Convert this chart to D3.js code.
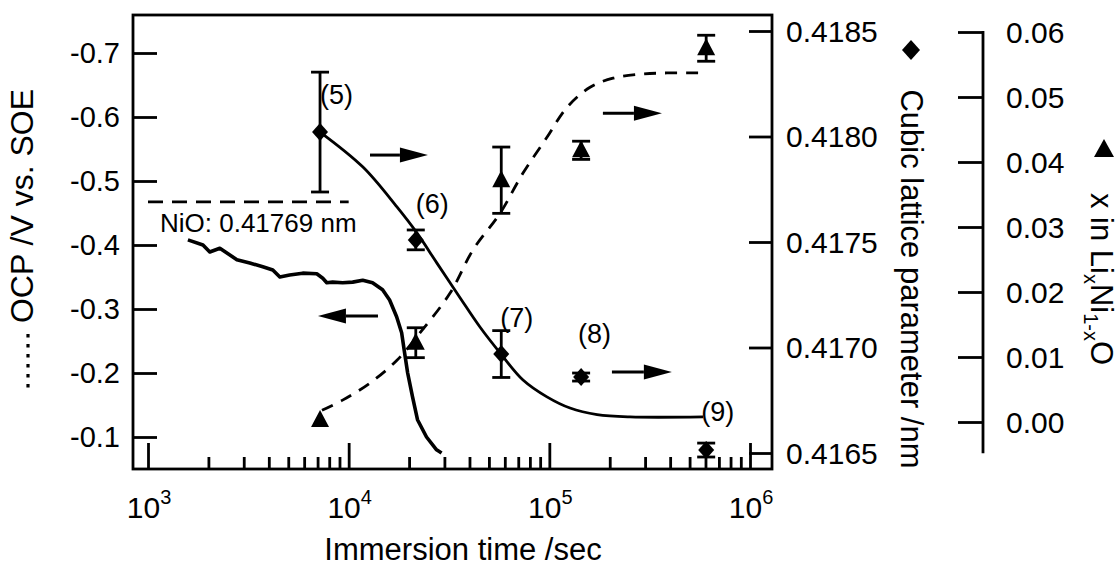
<!DOCTYPE html>
<html>
<head>
<meta charset="utf-8">
<script src="https://cdn.jsdelivr.net/npm/d3@7"></script>
<style>
  html, body { margin: 0; padding: 0; background: #fff; }
  svg { display: block; }
  text { font-family: "Liberation Sans", Arial, Helvetica, sans-serif; fill: #000; }
</style>
</head>
<body>
<svg id="chart" width="1119" height="568"></svg>
<script>
// ---------------- data ----------------
const xTickValues = [1e3, 1e4, 1e5, 1e6];
const xTickExp = ["3", "4", "5", "6"];
const ocpTicks = [-0.7, -0.6, -0.5, -0.4, -0.3, -0.2, -0.1];
const latticeTicks = [0.4165, 0.4170, 0.4175, 0.4180, 0.4185];
const liTicks = [0.00, 0.01, 0.02, 0.03, 0.04, 0.05, 0.06];

// lattice parameter (diamonds), nm, with error
const sampleTime = [7200, 21600, 57600, 144000, 604800];
const sampleLabel = ["(5)", "(6)", "(7)", "(8)", "(9)"];
const latticeVal = [0.418021, 0.417510, 0.416969, 0.416860, 0.416514];
const latticeErr = [0.000284, 0.000047, 0.000111, 0.000019, 0.000033];

// x in LixNi1-xO (triangles), with error
const liVal = [0.0003, 0.0122, 0.0372, 0.0418, 0.0575];
const liErr = [0, 0.0023, 0.0051, 0.0014, 0.0020];

// solid fit (lattice)
const latticeFitT = [7200, 11780, 17400, 21880, 27540, 35890, 45110, 57410, 73940, 97300, 126800, 173000, 252400, 583400];
const latticeFitV = [0.418021, 0.417855, 0.417666, 0.417543, 0.417400, 0.417236, 0.417097, 0.416969, 0.416846, 0.416766, 0.416713, 0.416682, 0.416671, 0.416671];

// dashed fit (x in LixNi1-xO)
const liFitT = [7362, 9375, 12770, 17400, 22650, 31960, 41690, 56760, 73940, 97300, 122400, 159600, 207600, 283100, 385500, 576800];
const liFitV = [0.0018, 0.0034, 0.0060, 0.0095, 0.0137, 0.0198, 0.0265, 0.0321, 0.0383, 0.0438, 0.0484, 0.0515, 0.0529, 0.0535, 0.0537, 0.0537];

// OCP trace (V vs SOE)
const ocpT = [1581, 1879, 2032, 2280, 2773, 3214, 3733, 4188, 4539, 5082, 5902, 6934, 7430, 7780, 8318, 9333, 10471, 11749, 13152, 14757, 15996, 17338, 18365, 19011, 19679, 20797, 22029, 24434, 27416, 29040];
const ocpV = [-0.408, -0.400, -0.389, -0.395, -0.377, -0.372, -0.366, -0.361, -0.350, -0.353, -0.356, -0.355, -0.348, -0.341, -0.342, -0.341, -0.342, -0.345, -0.341, -0.330, -0.314, -0.288, -0.263, -0.231, -0.200, -0.163, -0.127, -0.100, -0.080, -0.075];

// NiO reference line
const nioLattice = 0.41769;
const nioRange = [1000, 10000];
const nioLabel = "NiO: 0.41769 nm";

// ---------------- layout ----------------
const svg = d3.select("#chart");
const frame = { left: 133, right: 772, top: 15, bottom: 469 };

const x = d3.scaleLog().domain([1e3, 1e6]).range([148, 750]);
const yOcp = d3.scaleLinear().domain([-0.1, -0.7]).range([437, 53]);
const yLat = d3.scaleLinear().domain([0.4165, 0.4185]).range([453, 31]);
const yLi = d3.scaleLinear().domain([0.00, 0.06]).range([422, 32]);

const SW = 2.8;

// frame
svg.append("rect")
  .attr("x", frame.left).attr("y", frame.top)
  .attr("width", frame.right - frame.left).attr("height", frame.bottom - frame.top)
  .attr("fill", "none").attr("stroke", "#000").attr("stroke-width", SW);

// ---- bottom axis (log) ----
const minorTicks = [];
for (let d = 1e3; d < 1e6; d *= 10) for (let k = 2; k <= 9; k++) minorTicks.push(d * k);
const xAxisG = svg.append("g").attr("transform", `translate(0,${frame.bottom})`);
xAxisG.call(d3.axisTop(x).tickValues(minorTicks).tickSize(12).tickFormat(""));
xAxisG.append("g").call(d3.axisTop(x).tickValues(xTickValues).tickSize(26).tickFormat(""));
xAxisG.selectAll(".domain").remove();
xAxisG.selectAll("line").attr("stroke", "#000").attr("stroke-width", SW);

const xLabels = svg.append("g");
xTickValues.forEach((v, i) => {
  const t = xLabels.append("text")
    .attr("x", x(v) + 1).attr("y", 518)
    .attr("text-anchor", "middle").attr("font-size", 30);
  t.append("tspan").text("10");
  t.append("tspan").attr("font-size", 20).attr("dy", -14).text(xTickExp[i]);
});

svg.append("text").attr("x", 463).attr("y", 560)
  .attr("text-anchor", "middle").attr("font-size", 31)
  .text("Immersion time /sec");

// ---- left axis (OCP) ----
const lAxis = svg.append("g").attr("transform", `translate(${frame.left},0)`)
  .call(d3.axisRight(yOcp).tickValues(ocpTicks).tickSize(24).tickFormat(""));
lAxis.select(".domain").remove();
lAxis.selectAll("line").attr("stroke", "#000").attr("stroke-width", SW);
svg.append("g").selectAll("text").data(ocpTicks).join("text")
  .attr("x", 120).attr("y", d => yOcp(d))
  .attr("dy", "0.36em").attr("text-anchor", "end").attr("font-size", 29)
  .text(d => d3.format(".1f")(d).replace("\u2212", "-"));

svg.append("text")
  .attr("transform", "translate(33,206) rotate(-90)")
  .attr("text-anchor", "middle").attr("font-size", 32)
  .text("OCP /V vs. SOE");
svg.append("line")
  .attr("x1", 28).attr("x2", 28).attr("y1", 334).attr("y2", 394)
  .attr("stroke", "#000").attr("stroke-width", 3.2)
  .attr("stroke-dasharray", "3.5,6.5");

// ---- right inner axis (lattice) ----
const rAxis = svg.append("g").attr("transform", `translate(${frame.right},0)`)
  .call(d3.axisLeft(yLat).tickValues(latticeTicks).tickSize(23).tickFormat(""));
rAxis.select(".domain").remove();
rAxis.selectAll("line").attr("stroke", "#000").attr("stroke-width", SW);
svg.append("g").selectAll("text").data(latticeTicks).join("text")
  .attr("x", 786).attr("y", d => yLat(d))
  .attr("dy", "0.36em").attr("text-anchor", "start").attr("font-size", 30)
  .text(d => d3.format(".4f")(d));

svg.append("text")
  .attr("transform", "translate(901,279) rotate(90)")
  .attr("text-anchor", "middle").attr("font-size", 31)
  .text("Cubic lattice parameter /nm");
svg.append("path")
  .attr("transform", "translate(911,50)")
  .attr("d", "M0,-10L9,0L0,10L-9,0Z").attr("fill", "#000");

// ---- far right axis (x in LixNi1-xO) ----
const farX = 983;
svg.append("line").attr("x1", farX).attr("x2", farX)
  .attr("y1", yLi(0.06) - 1).attr("y2", yLi(-0.0048))
  .attr("stroke", "#000").attr("stroke-width", SW);
const fAxis = svg.append("g").attr("transform", `translate(${farX},0)`)
  .call(d3.axisLeft(yLi).tickValues(liTicks).tickSize(25).tickFormat(""));
fAxis.select(".domain").remove();
fAxis.selectAll("line").attr("stroke", "#000").attr("stroke-width", SW);
svg.append("g").selectAll("text").data(liTicks).join("text")
  .attr("x", 1006).attr("y", d => yLi(d))
  .attr("dy", "0.36em").attr("text-anchor", "start").attr("font-size", 30)
  .text(d => d3.format(".2f")(d));

const ft = svg.append("text")
  .attr("transform", "translate(1091,279) rotate(90)")
  .attr("text-anchor", "middle").attr("font-size", 31);
ft.append("tspan").text("x in Li");
ft.append("tspan").attr("font-size", 20).attr("dy", 7).text("x");
ft.append("tspan").attr("dy", -7).text("Ni");
ft.append("tspan").attr("font-size", 20).attr("dy", 7).text("1-x");
ft.append("tspan").attr("dy", -7).text("O");
svg.append("path")
  .attr("transform", "translate(1104,150)")
  .attr("d", "M0,-11L10,7L-10,7Z").attr("fill", "#000");

// ---------------- marks ----------------
const plot = svg.append("g");

// NiO reference dashed line
plot.append("line")
  .attr("x1", x(nioRange[0])).attr("x2", x(nioRange[1]))
  .attr("y1", yLat(nioLattice)).attr("y2", yLat(nioLattice))
  .attr("stroke", "#000").attr("stroke-width", SW).attr("stroke-dasharray", "15,9");
plot.append("text").attr("x", 160).attr("y", 232)
  .attr("font-size", 26).text(nioLabel);

// OCP trace
const ocpData = ocpT.map((t, i) => [t, ocpV[i]]);
plot.append("path")
  .attr("d", d3.line().x(d => x(d[0])).y(d => yOcp(d[1])).curve(d3.curveLinear)(ocpData))
  .attr("fill", "none").attr("stroke", "#000").attr("stroke-width", 3.6)
  .attr("stroke-linejoin", "round");

// lattice fit (solid)
const latFit = latticeFitT.map((t, i) => [t, latticeFitV[i]]);
plot.append("path")
  .attr("d", d3.line().x(d => x(d[0])).y(d => yLat(d[1])).curve(d3.curveCatmullRom.alpha(0.5))(latFit))
  .attr("fill", "none").attr("stroke", "#000").attr("stroke-width", SW);

// Li fit (dashed)
const liFit = liFitT.map((t, i) => [t, liFitV[i]]);
plot.append("path")
  .attr("d", d3.line().x(d => x(d[0])).y(d => yLi(d[1])).curve(d3.curveCatmullRom.alpha(0.5))(liFit))
  .attr("fill", "none").attr("stroke", "#000").attr("stroke-width", SW)
  .attr("stroke-dasharray", "12,9");

// error bars
function errBar(g, xs, ys, es, yScale, capW) {
  xs.forEach((t, i) => {
    if (!es[i]) return;
    const cx = x(t), y1 = yScale(ys[i] - es[i]), y2 = yScale(ys[i] + es[i]);
    g.append("line").attr("x1", cx).attr("x2", cx).attr("y1", y1).attr("y2", y2)
      .attr("stroke", "#000").attr("stroke-width", SW);
    [y1, y2].forEach(yy => g.append("line")
      .attr("x1", cx - capW / 2).attr("x2", cx + capW / 2).attr("y1", yy).attr("y2", yy)
      .attr("stroke", "#000").attr("stroke-width", SW));
  });
}
errBar(plot, sampleTime, latticeVal, latticeErr, yLat, 18);
errBar(plot, sampleTime, liVal, liErr, yLi, 18);

// diamonds
plot.selectAll(".dia").data(sampleTime).join("path")
  .attr("transform", (t, i) => `translate(${x(t)},${yLat(latticeVal[i])})`)
  .attr("d", "M0,-9L8,0L0,9L-8,0Z").attr("fill", "#000");

// triangles
plot.selectAll(".tri").data(sampleTime).join("path")
  .attr("transform", (t, i) => `translate(${x(t)},${yLi(liVal[i])})`)
  .attr("d", "M0,-10L9,7L-9,7Z").attr("fill", "#000");

// sample labels
const labelOffset = [[0, -28], [0, -27], [-1, -27], [-3, -34], [-5, -29]];
plot.selectAll(".lbl").data(sampleTime).join("text")
  .attr("x", (t, i) => x(t) + labelOffset[i][0])
  .attr("y", (t, i) => yLat(latticeVal[i]) + labelOffset[i][1])
  .attr("font-size", 27)
  .text((t, i) => sampleLabel[i]);

// arrows (data coordinates on the axis each points to)
const arrows = [
  { x1: 12770, x2: 24830, y: 0.417912, s: yLat },
  { x1: 14000, x2: 7030, y: -0.289, s: yOcp },
  { x1: 184900, x2: 364000, y: 0.0475, s: yLi },
  { x1: 205100, x2: 408000, y: 0.416884, s: yLat }
];
arrows.forEach(a => {
  const xa = x(a.x1), xb = x(a.x2), yy = a.s(a.y);
  const dir = xb > xa ? 1 : -1;
  const head = 28;
  plot.append("line").attr("x1", xa).attr("x2", xb - dir * head).attr("y1", yy).attr("y2", yy)
    .attr("stroke", "#000").attr("stroke-width", 3);
  plot.append("path")
    .attr("d", `M${xb},${yy}L${xb - dir * head},${yy - 7.5}L${xb - dir * head},${yy + 7.5}Z`)
    .attr("fill", "#000");
});
</script>
</body>
</html>
